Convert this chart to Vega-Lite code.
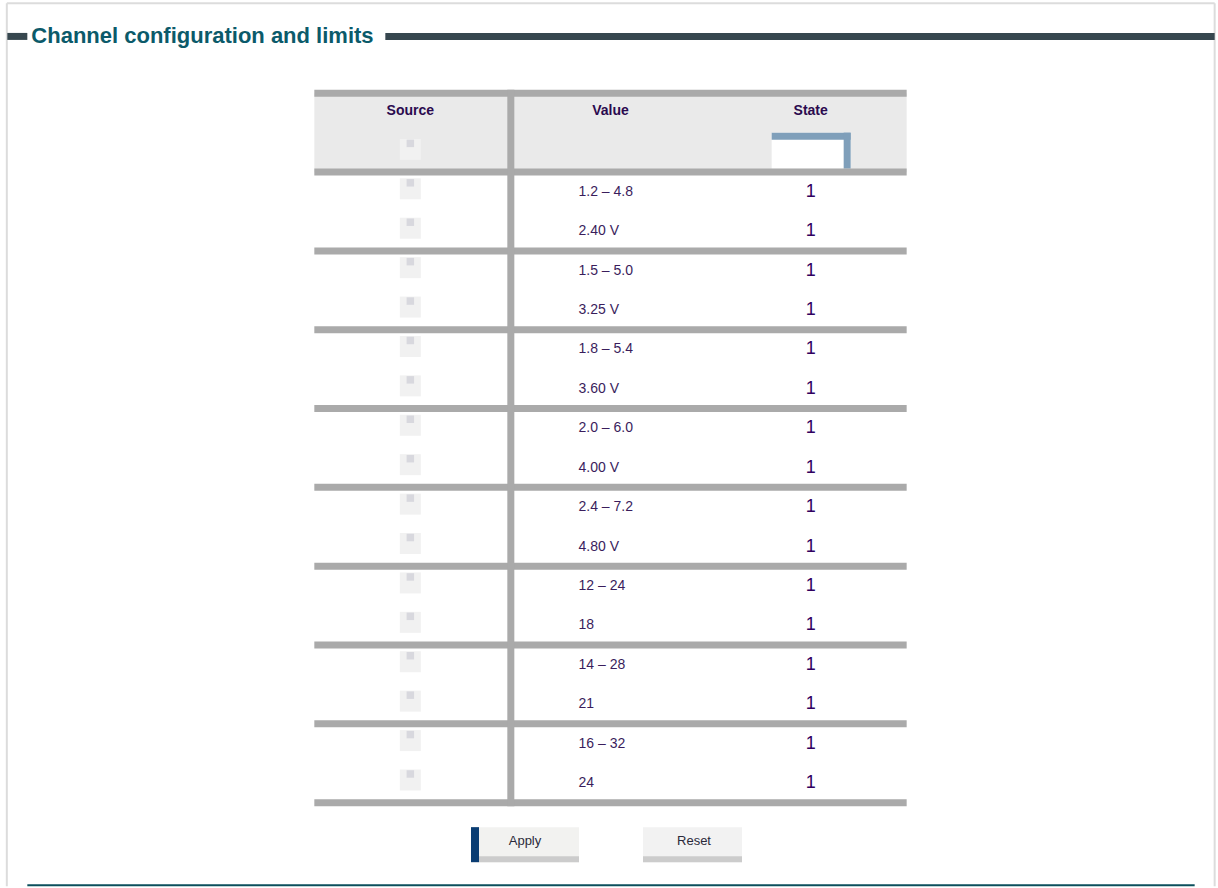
{
  "$schema": "https://vega.github.io/schema/vega-lite/v6.json",
  "width": 1218,
  "height": 888,
  "padding": 0,
  "autosize": {"type": "fit", "contains": "padding"},
  "background": "white",
  "config": {"view": {"stroke": null}, "text": {"font": "Liberation Sans"}},
  "data": {"values": [{}]},
  "datasets": {
    "grid": [{"row": 0}, {"row": 2}, {"row": 4}, {"row": 6}, {"row": 8}, {"row": 10}, {"row": 12}, {"row": 14}, {"row": 16}, {"row": 18}],
    "header": [
      {"row": 0, "col": 1, "label": "Source"},
      {"row": 0, "col": 2, "label": "Value"},
      {"row": 0, "col": 3, "label": "State"}
    ],
    "rows": [
      {"row": 1, "group": 0, "value": null, "state": null},
      {"row": 2, "group": 1, "value": "1.2 – 4.8", "state": "1"},
      {"row": 3, "group": 1, "value": "2.40 V", "state": "1"},
      {"row": 4, "group": 2, "value": "1.5 – 5.0", "state": "1"},
      {"row": 5, "group": 2, "value": "3.25 V", "state": "1"},
      {"row": 6, "group": 3, "value": "1.8 – 5.4", "state": "1"},
      {"row": 7, "group": 3, "value": "3.60 V", "state": "1"},
      {"row": 8, "group": 4, "value": "2.0 – 6.0", "state": "1"},
      {"row": 9, "group": 4, "value": "4.00 V", "state": "1"},
      {"row": 10, "group": 5, "value": "2.4 – 7.2", "state": "1"},
      {"row": 11, "group": 5, "value": "4.80 V", "state": "1"},
      {"row": 12, "group": 6, "value": "12 – 24", "state": "1"},
      {"row": 13, "group": 6, "value": "18", "state": "1"},
      {"row": 14, "group": 7, "value": "14 – 28", "state": "1"},
      {"row": 15, "group": 7, "value": "21", "state": "1"},
      {"row": 16, "group": 8, "value": "16 – 32", "state": "1"},
      {"row": 17, "group": 8, "value": "24", "state": "1"}
    ],
    "title": [{"title": "Channel configuration and limits"}]
  },
  "layer": [
    {"mark": {"type": "rule", "color": "#dcdcdc", "strokeWidth": 2, "xOffset": -403.5, "yOffset": -109.75, "y2Offset": 103.25},
     "encoding": {"x": {"datum": 1, "type": "quantitative", "scale": {"domain": [-1.04988, 5.02494], "nice": false, "zero": false}, "axis": null},
                  "y": {"datum": 0, "type": "quantitative", "scale": {"domain": [-2.8671, 19.6139], "reverse": true, "nice": false, "zero": false}, "axis": null},
                  "y2": {"datum": 17}}},
    {"mark": {"type": "rule", "color": "#dcdcdc", "strokeWidth": 2, "xOffset": -403.5, "x2Offset": 404, "yOffset": -109.75},
     "encoding": {"x": {"datum": 1, "type": "quantitative", "scale": {"domain": [-1.04988, 5.02494], "nice": false, "zero": false}, "axis": null},
                  "x2": {"datum": 3},
                  "y": {"datum": 0, "type": "quantitative", "scale": {"domain": [-2.8671, 19.6139], "reverse": true, "nice": false, "zero": false}, "axis": null}}},
    {"mark": {"type": "rule", "color": "#dcdcdc", "strokeWidth": 2, "xOffset": 404, "yOffset": -109.75, "y2Offset": 103.25},
     "encoding": {"x": {"datum": 3, "type": "quantitative", "scale": {"domain": [-1.04988, 5.02494], "nice": false, "zero": false}, "axis": null},
                  "y": {"datum": 0, "type": "quantitative", "scale": {"domain": [-2.8671, 19.6139], "reverse": true, "nice": false, "zero": false}, "axis": null},
                  "y2": {"datum": 17}}},
    {"mark": {"type": "rect", "color": "#eaeaea", "xOffset": -96, "x2Offset": 96, "yOffset": -19.75, "y2Offset": 19.75},
     "encoding": {"x": {"datum": 1, "type": "quantitative", "scale": {"domain": [-1.04988, 5.02494], "nice": false, "zero": false}, "axis": null},
                  "x2": {"datum": 3},
                  "y": {"datum": 0, "type": "quantitative", "scale": {"domain": [-2.8671, 19.6139], "reverse": true, "nice": false, "zero": false}, "axis": null},
                  "y2": {"datum": 1}}},
    {"mark": {"type": "rect", "color": "#ffffff", "xOffset": -39, "x2Offset": 40, "yOffset": -19.75, "y2Offset": 16.25},
     "encoding": {"x": {"datum": 3, "type": "quantitative", "scale": {"domain": [-1.04988, 5.02494], "nice": false, "zero": false}, "axis": null},
                  "x2": {"datum": 3},
                  "y": {"datum": 1, "type": "quantitative", "scale": {"domain": [-2.8671, 19.6139], "reverse": true, "nice": false, "zero": false}, "axis": null},
                  "y2": {"datum": 1}}},
    {"mark": {"type": "rule", "color": "#7f9fba", "strokeWidth": 7, "xOffset": -39, "x2Offset": 40, "yOffset": -16.25},
     "encoding": {"x": {"datum": 3, "type": "quantitative", "scale": {"domain": [-1.04988, 5.02494], "nice": false, "zero": false}, "axis": null},
                  "x2": {"datum": 3},
                  "y": {"datum": 1, "type": "quantitative", "scale": {"domain": [-2.8671, 19.6139], "reverse": true, "nice": false, "zero": false}, "axis": null}}},
    {"mark": {"type": "rule", "color": "#7f9fba", "strokeWidth": 7, "xOffset": 36.5, "yOffset": -19.75, "y2Offset": 16.25},
     "encoding": {"x": {"datum": 3, "type": "quantitative", "scale": {"domain": [-1.04988, 5.02494], "nice": false, "zero": false}, "axis": null},
                  "y": {"datum": 1, "type": "quantitative", "scale": {"domain": [-2.8671, 19.6139], "reverse": true, "nice": false, "zero": false}, "axis": null},
                  "y2": {"datum": 1}}},
    {"data": {"name": "grid"},
     "mark": {"type": "rule", "color": "#aaaaaa", "strokeWidth": 7, "xOffset": -96, "x2Offset": 96, "yOffset": -19.75},
     "encoding": {"x": {"datum": 1, "type": "quantitative", "scale": {"domain": [-1.04988, 5.02494], "nice": false, "zero": false}, "axis": null},
                  "x2": {"datum": 3},
                  "y": {"field": "row", "type": "quantitative", "scale": {"domain": [-2.8671, 19.6139], "reverse": true, "nice": false, "zero": false}, "axis": null}}},
    {"mark": {"type": "rule", "color": "#aaaaaa", "strokeWidth": 7, "xOffset": 100.5, "yOffset": -23.25, "y2Offset": 23.25},
     "encoding": {"x": {"datum": 1, "type": "quantitative", "scale": {"domain": [-1.04988, 5.02494], "nice": false, "zero": false}, "axis": null},
                  "y": {"datum": 0, "type": "quantitative", "scale": {"domain": [-2.8671, 19.6139], "reverse": true, "nice": false, "zero": false}, "axis": null},
                  "y2": {"datum": 17}}},
    {"data": {"name": "rows"},
     "mark": {"type": "point", "shape": "square", "filled": true, "size": 441, "color": "#f1f1f1", "opacity": 1, "yOffset": -3},
     "encoding": {"x": {"datum": 1, "type": "quantitative", "scale": {"domain": [-1.04988, 5.02494], "nice": false, "zero": false}, "axis": null},
                  "y": {"field": "row", "type": "quantitative", "scale": {"domain": [-2.8671, 19.6139], "reverse": true, "nice": false, "zero": false}, "axis": null}}},
    {"data": {"name": "rows"},
     "mark": {"type": "point", "shape": "square", "filled": true, "size": 56, "color": "#d8d8de", "opacity": 1, "yOffset": -9},
     "encoding": {"x": {"datum": 1, "type": "quantitative", "scale": {"domain": [-1.04988, 5.02494], "nice": false, "zero": false}, "axis": null},
                  "y": {"field": "row", "type": "quantitative", "scale": {"domain": [-2.8671, 19.6139], "reverse": true, "nice": false, "zero": false}, "axis": null}}},
    {"data": {"name": "header"},
     "mark": {"type": "text", "fontSize": 14, "fontWeight": "bold", "color": "#2b0a4f", "baseline": "middle", "align": "center", "dy": -2},
     "encoding": {"x": {"field": "col", "type": "quantitative", "scale": {"domain": [-1.04988, 5.02494], "nice": false, "zero": false}, "axis": null},
                  "y": {"field": "row", "type": "quantitative", "scale": {"domain": [-2.8671, 19.6139], "reverse": true, "nice": false, "zero": false}, "axis": null},
                  "text": {"field": "label"}}},
    {"data": {"name": "rows"},
     "transform": [{"filter": "datum.value != null"}],
     "mark": {"type": "text", "fontSize": 14, "color": "#3a1d5c", "baseline": "middle", "align": "left", "dx": -32},
     "encoding": {"x": {"datum": 2, "type": "quantitative", "scale": {"domain": [-1.04988, 5.02494], "nice": false, "zero": false}, "axis": null},
                  "y": {"field": "row", "type": "quantitative", "scale": {"domain": [-2.8671, 19.6139], "reverse": true, "nice": false, "zero": false}, "axis": null},
                  "text": {"field": "value"}}},
    {"data": {"name": "rows"},
     "transform": [{"filter": "datum.state != null"}],
     "mark": {"type": "text", "fontSize": 18, "color": "#30005f", "baseline": "middle", "align": "center"},
     "encoding": {"x": {"datum": 3, "type": "quantitative", "scale": {"domain": [-1.04988, 5.02494], "nice": false, "zero": false}, "axis": null},
                  "y": {"field": "row", "type": "quantitative", "scale": {"domain": [-2.8671, 19.6139], "reverse": true, "nice": false, "zero": false}, "axis": null},
                  "text": {"field": "state"}}},
    {"mark": {"type": "rule", "color": "#37474f", "strokeWidth": 7, "xOffset": -403, "x2Offset": -383, "yOffset": 2.25},
     "encoding": {"x": {"datum": 1, "type": "quantitative", "scale": {"domain": [-1.04988, 5.02494], "nice": false, "zero": false}, "axis": null},
                  "x2": {"datum": 1},
                  "y": {"datum": -2, "type": "quantitative", "scale": {"domain": [-2.8671, 19.6139], "reverse": true, "nice": false, "zero": false}, "axis": null}}},
    {"mark": {"type": "rule", "color": "#37474f", "strokeWidth": 7, "xOffset": -25, "x2Offset": 404, "yOffset": 2.25},
     "encoding": {"x": {"datum": 1, "type": "quantitative", "scale": {"domain": [-1.04988, 5.02494], "nice": false, "zero": false}, "axis": null},
                  "x2": {"datum": 3},
                  "y": {"datum": -2, "type": "quantitative", "scale": {"domain": [-2.8671, 19.6139], "reverse": true, "nice": false, "zero": false}, "axis": null}}},
    {"data": {"name": "title"},
     "mark": {"type": "text", "fontSize": 22, "fontWeight": "bold", "color": "#0b5a6a", "baseline": "middle", "align": "left", "dx": -379, "dy": 2.25},
     "encoding": {"x": {"datum": 1, "type": "quantitative", "scale": {"domain": [-1.04988, 5.02494], "nice": false, "zero": false}, "axis": null},
                  "y": {"datum": -2, "type": "quantitative", "scale": {"domain": [-2.8671, 19.6139], "reverse": true, "nice": false, "zero": false}, "axis": null},
                  "text": {"field": "title"}}},
    {"mark": {"type": "rect", "color": "#f2f2f0", "xOffset": -139.5, "x2Offset": -31.5, "yOffset": 4.75, "y2Offset": 39.75},
     "encoding": {"x": {"datum": 2, "type": "quantitative", "scale": {"domain": [-1.04988, 5.02494], "nice": false, "zero": false}, "axis": null},
                  "x2": {"datum": 2},
                  "y": {"datum": 18, "type": "quantitative", "scale": {"domain": [-2.8671, 19.6139], "reverse": true, "nice": false, "zero": false}, "axis": null},
                  "y2": {"datum": 18}}},
    {"mark": {"type": "rect", "color": "#cccccc", "xOffset": -139.5, "x2Offset": -31.5, "yOffset": 33.75, "y2Offset": 39.75},
     "encoding": {"x": {"datum": 2, "type": "quantitative", "scale": {"domain": [-1.04988, 5.02494], "nice": false, "zero": false}, "axis": null},
                  "x2": {"datum": 2},
                  "y": {"datum": 18, "type": "quantitative", "scale": {"domain": [-2.8671, 19.6139], "reverse": true, "nice": false, "zero": false}, "axis": null},
                  "y2": {"datum": 18}}},
    {"mark": {"type": "rect", "color": "#0a3d73", "xOffset": -139.5, "x2Offset": -131.5, "yOffset": 4.75, "y2Offset": 39.75},
     "encoding": {"x": {"datum": 2, "type": "quantitative", "scale": {"domain": [-1.04988, 5.02494], "nice": false, "zero": false}, "axis": null},
                  "x2": {"datum": 2},
                  "y": {"datum": 18, "type": "quantitative", "scale": {"domain": [-2.8671, 19.6139], "reverse": true, "nice": false, "zero": false}, "axis": null},
                  "y2": {"datum": 18}}},
    {"mark": {"type": "text", "fontSize": 13, "color": "#2a2a3a", "baseline": "middle", "align": "center", "dx": -85.5, "dy": 19},
     "encoding": {"x": {"datum": 2, "type": "quantitative", "scale": {"domain": [-1.04988, 5.02494], "nice": false, "zero": false}, "axis": null},
                  "y": {"datum": 18, "type": "quantitative", "scale": {"domain": [-2.8671, 19.6139], "reverse": true, "nice": false, "zero": false}, "axis": null},
                  "text": {"value": "Apply"}}},
    {"mark": {"type": "rect", "color": "#f2f2f2", "xOffset": 32.5, "x2Offset": 131.5, "yOffset": 4.75, "y2Offset": 39.75},
     "encoding": {"x": {"datum": 2, "type": "quantitative", "scale": {"domain": [-1.04988, 5.02494], "nice": false, "zero": false}, "axis": null},
                  "x2": {"datum": 2},
                  "y": {"datum": 18, "type": "quantitative", "scale": {"domain": [-2.8671, 19.6139], "reverse": true, "nice": false, "zero": false}, "axis": null},
                  "y2": {"datum": 18}}},
    {"mark": {"type": "rect", "color": "#cccccc", "xOffset": 32.5, "x2Offset": 131.5, "yOffset": 33.75, "y2Offset": 39.75},
     "encoding": {"x": {"datum": 2, "type": "quantitative", "scale": {"domain": [-1.04988, 5.02494], "nice": false, "zero": false}, "axis": null},
                  "x2": {"datum": 2},
                  "y": {"datum": 18, "type": "quantitative", "scale": {"domain": [-2.8671, 19.6139], "reverse": true, "nice": false, "zero": false}, "axis": null},
                  "y2": {"datum": 18}}},
    {"mark": {"type": "text", "fontSize": 13, "color": "#2a2a3a", "baseline": "middle", "align": "center", "dx": 83.5, "dy": 19},
     "encoding": {"x": {"datum": 2, "type": "quantitative", "scale": {"domain": [-1.04988, 5.02494], "nice": false, "zero": false}, "axis": null},
                  "y": {"datum": 18, "type": "quantitative", "scale": {"domain": [-2.8671, 19.6139], "reverse": true, "nice": false, "zero": false}, "axis": null},
                  "text": {"value": "Reset"}}},
    {"mark": {"type": "rule", "color": "#0b4f5c", "strokeWidth": 2, "xOffset": -383, "x2Offset": 384, "yOffset": 102.25},
     "encoding": {"x": {"datum": 1, "type": "quantitative", "scale": {"domain": [-1.04988, 5.02494], "nice": false, "zero": false}, "axis": null},
                  "x2": {"datum": 3},
                  "y": {"datum": 17, "type": "quantitative", "scale": {"domain": [-2.8671, 19.6139], "reverse": true, "nice": false, "zero": false}, "axis": null}}}
  ]
}
